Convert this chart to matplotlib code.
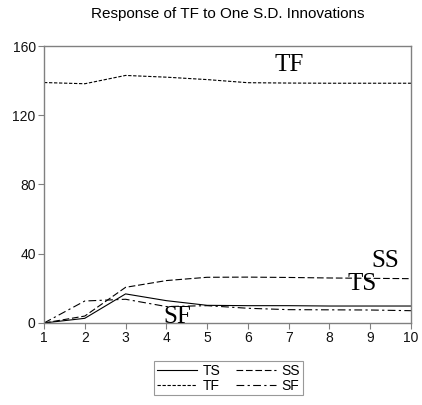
import matplotlib
matplotlib.use("Agg")
import matplotlib.pyplot as plt

periods = [1, 2, 3, 4, 5, 6, 7, 8, 9, 10]
ts = [0.0, 2.7, 16.8, 12.9, 10.2, 10.0, 10.0, 9.8, 9.8, 9.8]
ss = [0.0, 4.0, 20.6, 24.5, 26.4, 26.5, 26.3, 26.0, 25.8, 25.6]
tf = [138.9, 138.2, 143.0, 142.0, 140.6, 138.8, 138.6, 138.5, 138.5, 138.5]
sf = [0.0, 12.7, 13.7, 9.5, 10.0, 8.5, 7.7, 7.6, 7.5, 7.1]

yticks = [0, 40, 80, 120, 160]
title = "Response of TF to One S.D. Innovations"

plt.rcParams["font.family"] = ["Liberation Sans", "DejaVu Sans"]

fig = plt.figure(figsize=(4.22, 4.05), dpi=100)
ax = fig.add_axes([0.1043, 0.2025, 0.8697, 0.6839])

lw = 0.8
h_ts, = ax.plot(periods, ts, color="black", lw=lw, linestyle="-", label="TS")
h_ss, = ax.plot(periods, ss, color="black", lw=lw, linestyle=(0, (6, 2.5)), label="SS")
h_tf, = ax.plot(periods, tf, color="black", lw=lw, linestyle=(0, (3, 1.5)), label="TF")
h_sf, = ax.plot(periods, sf, color="black", lw=lw, linestyle=(0, (7, 3, 2, 3)), label="SF")

serif = ["Liberation Serif", "DejaVu Serif"]
for x, y, s in [(7.0, 149, "TF"), (9.37, 36, "SS"), (8.79, 22.4, "TS"), (4.28, 3.6, "SF")]:
    ax.text(x, y, s, family=serif, fontsize=18, ha="center", va="center")

ax.set_xlim(1, 10)
ax.set_ylim(0, 160)
ax.set_xticks(periods)
ax.set_yticks(yticks)
ax.tick_params(direction="out", length=4, width=0.8, color="#808080",
               labelsize=10, labelcolor="#111111", pad=2)
for s in ax.spines.values():
    s.set_color("#808080")
    s.set_linewidth(1.0)

ax.set_title(title, fontsize=11, pad=20)

# column-major fill: TS/TF in the first column, SS/SF in the second
leg = fig.legend([h_ts, h_tf, h_ss, h_sf], ["TS", "TF", "SS", "SF"],
                 loc="center", bbox_to_anchor=(0.541, 0.066),
                 ncol=2, fontsize=10, frameon=True, fancybox=False,
                 borderpad=0.2, handlelength=2.9, handletextpad=0.4,
                 columnspacing=1.1, labelspacing=0.05, borderaxespad=0)
leg.get_frame().set_edgecolor("#808080")
leg.get_frame().set_linewidth(0.8)

fig.savefig("out.png", dpi=100)
